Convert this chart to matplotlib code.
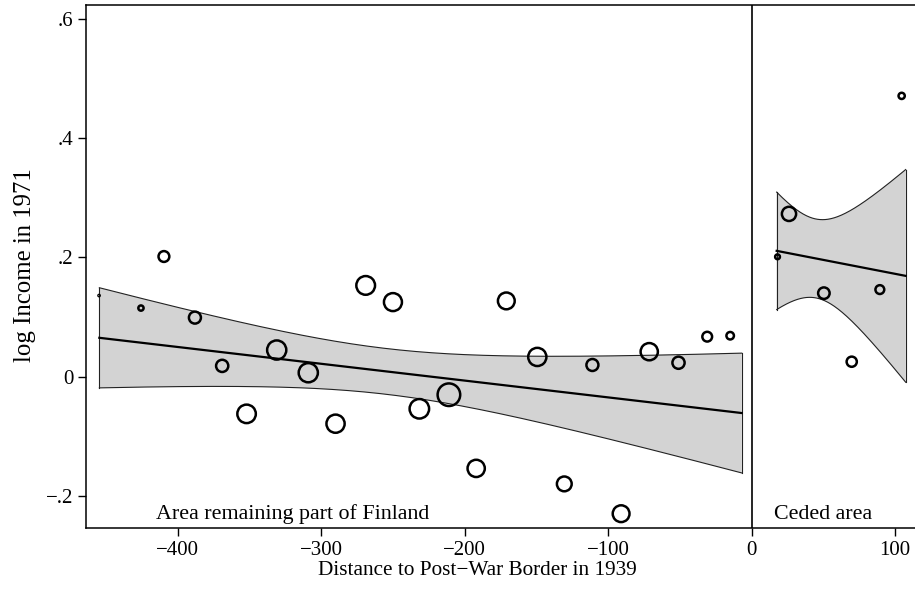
import numpy as np
import matplotlib
matplotlib.use("Agg")
import matplotlib.pyplot as plt
from matplotlib.transforms import blended_transform_factory

# binned means, area remaining part of Finland (distance < 0)
dist_fin = [-454.8, -425.6, -409.6, -388, -369, -352, -331, -309, -290, -269, -250, -231.6,
            -211, -192, -171, -149.4, -130.6, -111, -91, -71.4, -51, -31, -15]
inc_fin = [0.136, 0.115, 0.2015, 0.099, 0.018, -0.0625, 0.0446, 0.0065, -0.079, 0.153, 0.125, -0.054,
           -0.0304, -0.154, 0.127, 0.033, -0.18, 0.0195, -0.230, 0.0418, 0.0233, 0.067, 0.0686]
w_fin = [9, 60, 177, 210, 216, 441, 470, 470, 428, 450, 420, 484,
         630, 390, 372, 428, 299, 210, 372, 390, 216, 150, 100]

# binned means, ceded area (distance > 0)
dist_ced = [18, 26, 50.3, 69.7, 89.3, 104.5]
inc_ced = [0.201, 0.273, 0.140, 0.025, 0.146, 0.471]
w_ced = [53, 279, 196, 161, 128, 76]

# linear fits (end points) and 95% CI shape
fit_fin_x = [-454.6, -7]
fit_fin_y = [0.0651, -0.0611]
ci_fin = (-255, 0.0384, 3.744e-4)   # x of narrowest point, min half width, growth
fit_ced_x = [17.4, 107.3]
fit_ced_y = [0.211, 0.169]
ci_ced = (44.9, 0.0662, 2.655e-3)

yticks = [-0.2, 0, 0.2, 0.4, 0.6]
ytick_labels = ["\u2212.2", "0", ".2", ".4", ".6"]
xticks = [-400, -300, -200, -100, 0, 100]
xtick_labels = ["\u2212400", "\u2212300", "\u2212200", "\u2212100", "0", "100"]

plt.rcParams["font.family"] = ["Liberation Serif", "DejaVu Serif"]

fig = plt.figure(figsize=(9.15, 5.92), dpi=100)
ax = fig.add_axes([86 / 915, 1 - 528 / 592, 1 - 86 / 915, (528 - 4.8) / 592])


def draw_fit(xs, ys, ci):
    x = np.linspace(xs[0], xs[1], 200)
    slope = (ys[1] - ys[0]) / (xs[1] - xs[0])
    y = ys[0] + slope * (x - xs[0])
    xm, h0, c = ci
    hw = np.sqrt(h0 ** 2 + (c * (x - xm)) ** 2)
    ax.fill_between(x, y - hw, y + hw, facecolor="#d3d3d3", edgecolor="none", zorder=1)
    ax.plot(x, y + hw, color="#222222", lw=0.8, zorder=2)
    ax.plot(x, y - hw, color="#222222", lw=0.8, zorder=2)
    ax.plot([x[0], x[0]], [y[0] - hw[0], y[0] + hw[0]], color="#222222", lw=0.8, zorder=2)
    ax.plot([x[-1], x[-1]], [y[-1] - hw[-1], y[-1] + hw[-1]], color="#222222", lw=0.8, zorder=2)
    ax.plot(x, y, color="black", lw=1.6, zorder=3)


def marker_size(w, lw=1.8):
    d = np.sqrt(np.array(w, dtype=float)) * 0.72 - lw
    return np.clip(d, 0.9, None) ** 2


draw_fit(fit_fin_x, fit_fin_y, ci_fin)
draw_fit(fit_ced_x, fit_ced_y, ci_ced)

ax.scatter(dist_fin, inc_fin, s=marker_size(w_fin), facecolors="none",
           edgecolors="black", linewidths=1.8, zorder=4)
ax.scatter(dist_ced, inc_ced, s=marker_size(w_ced), facecolors="none",
           edgecolors="black", linewidths=1.8, zorder=4)

ax.axvline(0, color="black", lw=1.2, zorder=2)

ax.set_xlim(-463.9, 113.8)
ax.set_ylim(-0.254, 0.6238)
ax.set_xticks(xticks)
ax.set_xticklabels(xtick_labels)
ax.set_yticks(yticks)
ax.set_yticklabels(ytick_labels)
ax.tick_params(direction="out", length=6, width=1.0, labelsize=15)
ax.tick_params(axis="x", pad=3.5)
ax.tick_params(axis="y", pad=3)
ax.spines["right"].set_visible(False)
for sp in ["left", "bottom", "top"]:
    ax.spines[sp].set_linewidth(1.1)

ax.set_xlabel("Distance to Post\u2212War Border in 1939", fontsize=15.3, va="baseline")
ax.xaxis.set_label_coords(0.4723, -(575 - 528) / 523.2)
ax.set_ylabel("log Income in 1971", fontsize=17.8)
ax.yaxis.set_label_coords(-0.060, 0.5027)

trans = blended_transform_factory(ax.transData, ax.transAxes)
ax.text(-415, 0.018, "Area remaining part of Finland", transform=trans,
        fontsize=15.8, va="baseline", ha="left")
ax.text(15.8, 0.018, "Ceded area", transform=trans,
        fontsize=15.8, va="baseline", ha="left")

fig.savefig("out.png", dpi=100)
